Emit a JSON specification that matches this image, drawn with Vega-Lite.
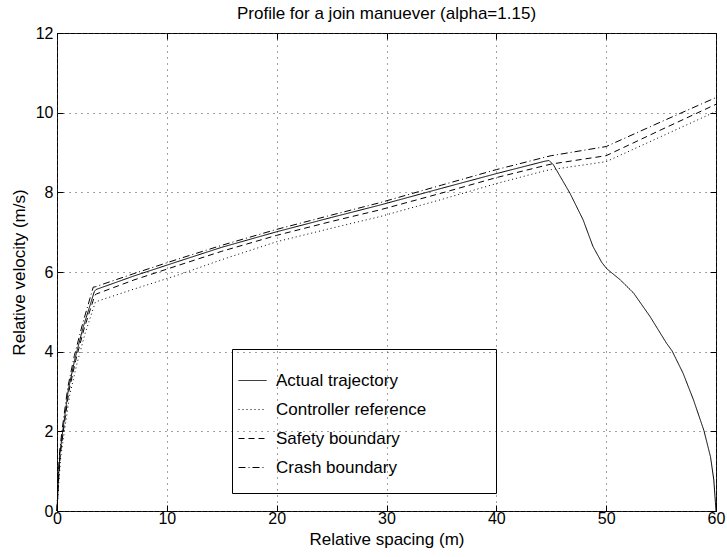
{
  "$schema": "https://vega.github.io/schema/vega-lite/v6.json",
  "width": 659,
  "height": 478,
  "autosize": {"type": "none"},
  "padding": {"left": 57, "top": 33, "right": 11, "bottom": 46},
  "background": "white",
  "title": {"text": "Profile for a join manuever (alpha=1.15)", "fontSize": 17, "font": "Liberation Sans", "fontWeight": "normal", "color": "black", "anchor": "middle", "offset": 2},
  "config": {
    "view": {"stroke": "black", "strokeWidth": 1},
    "font": "Liberation Sans"
  },
  "data": {"values": [
    {"series": "Actual trajectory", "x": 0, "y": 0},
    {"series": "Actual trajectory", "x": 0.12, "y": 0.78},
    {"series": "Actual trajectory", "x": 0.27, "y": 1.45},
    {"series": "Actual trajectory", "x": 0.52, "y": 2.0},
    {"series": "Actual trajectory", "x": 1.03, "y": 3.04},
    {"series": "Actual trajectory", "x": 1.64, "y": 3.83},
    {"series": "Actual trajectory", "x": 2.4, "y": 4.63},
    {"series": "Actual trajectory", "x": 3.4, "y": 5.51},
    {"series": "Actual trajectory", "x": 3.55, "y": 5.56},
    {"series": "Actual trajectory", "x": 7, "y": 5.9},
    {"series": "Actual trajectory", "x": 11.2, "y": 6.28},
    {"series": "Actual trajectory", "x": 15, "y": 6.62},
    {"series": "Actual trajectory", "x": 20, "y": 7.01},
    {"series": "Actual trajectory", "x": 25, "y": 7.37},
    {"series": "Actual trajectory", "x": 29.4, "y": 7.68},
    {"series": "Actual trajectory", "x": 35, "y": 8.1},
    {"series": "Actual trajectory", "x": 40, "y": 8.47},
    {"series": "Actual trajectory", "x": 44.4, "y": 8.78},
    {"series": "Actual trajectory", "x": 44.8, "y": 8.8},
    {"series": "Actual trajectory", "x": 45.2, "y": 8.69},
    {"series": "Actual trajectory", "x": 46.7, "y": 7.98},
    {"series": "Actual trajectory", "x": 47.9, "y": 7.31},
    {"series": "Actual trajectory", "x": 48.8, "y": 6.64},
    {"series": "Actual trajectory", "x": 49.6, "y": 6.24},
    {"series": "Actual trajectory", "x": 50.06, "y": 6.08},
    {"series": "Actual trajectory", "x": 51.3, "y": 5.8},
    {"series": "Actual trajectory", "x": 52.5, "y": 5.47},
    {"series": "Actual trajectory", "x": 54, "y": 4.88},
    {"series": "Actual trajectory", "x": 55.5, "y": 4.21},
    {"series": "Actual trajectory", "x": 56, "y": 4.02},
    {"series": "Actual trajectory", "x": 57, "y": 3.46},
    {"series": "Actual trajectory", "x": 57.95, "y": 2.79},
    {"series": "Actual trajectory", "x": 58.9, "y": 2.02},
    {"series": "Actual trajectory", "x": 59.5, "y": 1.36},
    {"series": "Actual trajectory", "x": 59.8, "y": 0.78},
    {"series": "Actual trajectory", "x": 59.95, "y": 0.2},
    {"series": "Actual trajectory", "x": 60, "y": 0},
    {"series": "Controller reference", "x": 0, "y": 0},
    {"series": "Controller reference", "x": 0.16, "y": 0.7},
    {"series": "Controller reference", "x": 0.34, "y": 1.35},
    {"series": "Controller reference", "x": 0.62, "y": 1.9},
    {"series": "Controller reference", "x": 1.15, "y": 2.9},
    {"series": "Controller reference", "x": 1.8, "y": 3.68},
    {"series": "Controller reference", "x": 2.55, "y": 4.45},
    {"series": "Controller reference", "x": 3.5, "y": 5.25},
    {"series": "Controller reference", "x": 7, "y": 5.57},
    {"series": "Controller reference", "x": 11.2, "y": 5.94},
    {"series": "Controller reference", "x": 15, "y": 6.31},
    {"series": "Controller reference", "x": 20, "y": 6.76},
    {"series": "Controller reference", "x": 25, "y": 7.1},
    {"series": "Controller reference", "x": 29.4, "y": 7.39},
    {"series": "Controller reference", "x": 35, "y": 7.82},
    {"series": "Controller reference", "x": 40, "y": 8.22},
    {"series": "Controller reference", "x": 44.4, "y": 8.54},
    {"series": "Controller reference", "x": 45, "y": 8.57},
    {"series": "Controller reference", "x": 50, "y": 8.77},
    {"series": "Controller reference", "x": 55, "y": 9.4},
    {"series": "Controller reference", "x": 60, "y": 10.03},
    {"series": "Safety boundary", "x": 0, "y": 0},
    {"series": "Safety boundary", "x": 0.14, "y": 0.75},
    {"series": "Safety boundary", "x": 0.3, "y": 1.42},
    {"series": "Safety boundary", "x": 0.56, "y": 1.97},
    {"series": "Safety boundary", "x": 1.08, "y": 3.0},
    {"series": "Safety boundary", "x": 1.7, "y": 3.78},
    {"series": "Safety boundary", "x": 2.46, "y": 4.57},
    {"series": "Safety boundary", "x": 3.45, "y": 5.42},
    {"series": "Safety boundary", "x": 3.6, "y": 5.45},
    {"series": "Safety boundary", "x": 7, "y": 5.8},
    {"series": "Safety boundary", "x": 11.2, "y": 6.18},
    {"series": "Safety boundary", "x": 15, "y": 6.52},
    {"series": "Safety boundary", "x": 20, "y": 6.92},
    {"series": "Safety boundary", "x": 25, "y": 7.27},
    {"series": "Safety boundary", "x": 29.4, "y": 7.56},
    {"series": "Safety boundary", "x": 35, "y": 7.98},
    {"series": "Safety boundary", "x": 40, "y": 8.37},
    {"series": "Safety boundary", "x": 44.4, "y": 8.67},
    {"series": "Safety boundary", "x": 45, "y": 8.71},
    {"series": "Safety boundary", "x": 50, "y": 8.92},
    {"series": "Safety boundary", "x": 55, "y": 9.57},
    {"series": "Safety boundary", "x": 60, "y": 10.21},
    {"series": "Crash boundary", "x": 0, "y": 0},
    {"series": "Crash boundary", "x": 0.1, "y": 0.82},
    {"series": "Crash boundary", "x": 0.24, "y": 1.5},
    {"series": "Crash boundary", "x": 0.48, "y": 2.07},
    {"series": "Crash boundary", "x": 0.98, "y": 3.1},
    {"series": "Crash boundary", "x": 1.58, "y": 3.9},
    {"series": "Crash boundary", "x": 2.33, "y": 4.7},
    {"series": "Crash boundary", "x": 3.3, "y": 5.62},
    {"series": "Crash boundary", "x": 3.5, "y": 5.63},
    {"series": "Crash boundary", "x": 7, "y": 5.96},
    {"series": "Crash boundary", "x": 11.2, "y": 6.34},
    {"series": "Crash boundary", "x": 15, "y": 6.67},
    {"series": "Crash boundary", "x": 20, "y": 7.07},
    {"series": "Crash boundary", "x": 25, "y": 7.43},
    {"series": "Crash boundary", "x": 29.4, "y": 7.74},
    {"series": "Crash boundary", "x": 35, "y": 8.18},
    {"series": "Crash boundary", "x": 40, "y": 8.57},
    {"series": "Crash boundary", "x": 44.4, "y": 8.88},
    {"series": "Crash boundary", "x": 45, "y": 8.92},
    {"series": "Crash boundary", "x": 50, "y": 9.15},
    {"series": "Crash boundary", "x": 55, "y": 9.77},
    {"series": "Crash boundary", "x": 60, "y": 10.38}
  ]},
  "layer": [
    {
      "mark": {"type": "line", "color": "black", "strokeWidth": 1},
      "encoding": {
        "x": {"field": "x", "type": "quantitative", "scale": {"domain": [0, 60], "nice": false},
          "axis": {"orient": "bottom", "values": [0, 10, 20, 30, 40, 50, 60], "grid": true, "gridDash": [1, 5], "gridColor": "#444", "gridOpacity": 1, "gridWidth": 1,
            "tickSize": -6, "tickColor": "black", "domain": false, "labelFontSize": 16, "labelColor": "black", "labelPadding": 5, "labelFlush": false,
            "title": "Relative spacing (m)", "titleFontSize": 17, "titleFontWeight": "normal", "titleColor": "black", "titlePadding": 5}},
        "y": {"field": "y", "type": "quantitative", "scale": {"domain": [0, 12], "nice": false},
          "axis": {"orient": "left", "values": [0, 2, 4, 6, 8, 10, 12], "grid": true, "gridDash": [1, 5], "gridColor": "#444", "gridOpacity": 1, "gridWidth": 1,
            "tickSize": -6, "tickColor": "black", "domain": false, "labelFontSize": 16, "labelColor": "black", "labelPadding": 10, "labelFlush": false,
            "title": "Relative velocity (m/s)", "titleFontSize": 17, "titleFontWeight": "normal", "titleColor": "black", "titlePadding": 7}},
        "strokeDash": {"field": "series", "type": "nominal",
          "scale": {"domain": ["Actual trajectory", "Controller reference", "Safety boundary", "Crash boundary"], "range": [[1, 0], [1, 3], [6, 4], [7, 3, 1, 3]]},
          "legend": {"orient": "none", "legendX": 175, "legendY": 316, "title": "\u00a0", "titleOrient": "right", "titleAngle": 0, "titlePadding": 53, "titleFontSize": 17, "strokeColor": "black", "padding": 17,
            "symbolType": "stroke", "symbolSize": 784, "symbolStrokeWidth": 1, "symbolStrokeColor": "black", "symbolOffset": -11,
            "labelFontSize": 17, "labelColor": "black", "labelOffset": 9, "rowPadding": 6}}
      }
    },
    {
      "mark": {"type": "point", "opacity": 0},
      "encoding": {
        "x": {"field": "x", "type": "quantitative",
          "axis": {"orient": "top", "values": [0, 10, 20, 30, 40, 50, 60], "grid": false, "labels": false, "tickSize": -6, "tickColor": "black", "domain": false, "title": null}},
        "y": {"field": "y", "type": "quantitative",
          "axis": {"orient": "right", "values": [0, 2, 4, 6, 8, 10, 12], "grid": false, "labels": false, "tickSize": -6, "tickColor": "black", "domain": false, "title": null}}
      }
    }
  ],
  "resolve": {"axis": {"x": "independent", "y": "independent"}}
}
